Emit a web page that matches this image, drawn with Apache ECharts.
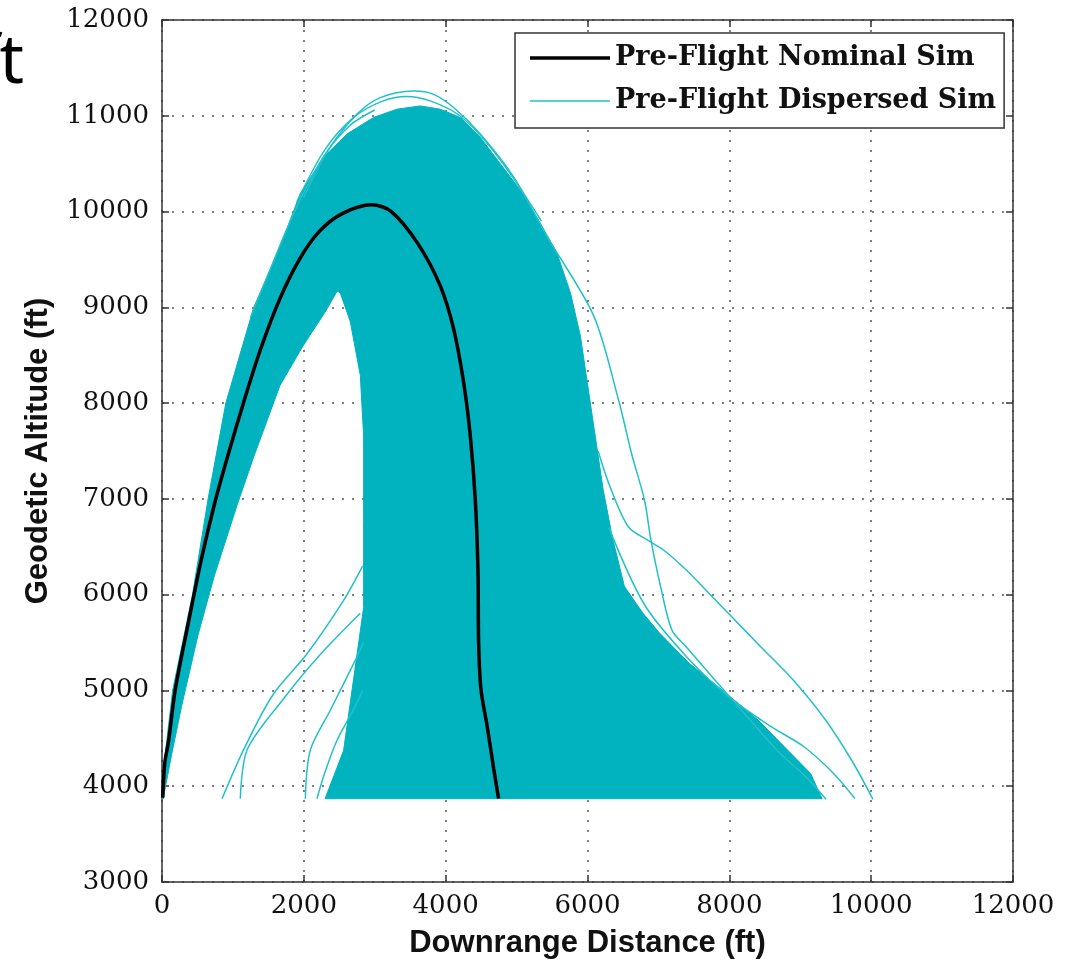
<!DOCTYPE html>
<html><head><meta charset="utf-8">
<script src="https://cdn.jsdelivr.net/npm/echarts@6/dist/echarts.min.js"></script>
<style>html,body{margin:0;padding:0;background:#fff}#c{width:1087px;height:964px}</style>
</head><body><div id="c"></div>
<script>
// ---- axis ticks ----
const xTickValues = [0, 2000, 4000, 6000, 8000, 10000, 12000];
const yTickValues = [3000, 4000, 5000, 6000, 7000, 8000, 9000, 10000, 11000, 12000];

// ---- nominal trajectory (black) ----
const nominalX = [10, 40, 92, 185, 370, 554, 739, 924, 1155, 1386, 1663, 1940, 2218, 2541, 2960, 3234, 3604, 3924, 4112, 4253, 4347, 4418, 4456, 4465, 4498, 4583, 4676, 4746];
const nominalY = [3880, 4250, 4466, 5000, 5700, 6366, 6944, 7440, 8018, 8555, 9091, 9504, 9793, 9979, 10070, 10000, 9670, 9224, 8776, 8217, 7657, 6985, 6240, 5494, 5009, 4636, 4188, 3871];

// ---- dense dispersion cloud outline (outer edge, bottom, inner hole edge) ----
const cloudX = [0, 40, 150, 430, 650, 900, 1294, 1668, 1950, 2279, 2608, 2984, 3313, 3642, 3924, 4206, 4488, 4770, 5052, 5334, 5569, 5760, 5900, 6000, 6100, 6220, 6350, 6520, 6780, 7016, 7433, 7896, 8405, 8822, 9146, 9308,
  2300, 2561, 2702, 2843, 2843, 2843, 2796, 2655, 2514, 2470, 2300, 1987, 1663, 1294, 1063, 739, 508, 277, 139, 40, 20];
const cloudY = [3870, 4300, 5000, 6000, 7000, 8000, 9000, 9637, 10189, 10569, 10810, 10983, 11069, 11103, 11069, 10983, 10776, 10500, 10224, 9879, 9568, 9150, 8700, 8200, 7700, 7100, 6600, 6087, 5808, 5599, 5285, 5006, 4692, 4377, 4133, 3870,
  3870, 4375, 5121, 5867, 6762, 7657, 8291, 8851, 9149, 9170, 8950, 8596, 8183, 7440, 6944, 6200, 5580, 4838, 4342, 3960, 3870];

// ---- individual dispersed runs that leave the cloud ----
const runAX = [2000, 2350, 2749, 3078, 3548, 3830, 4112, 4488, 4958, 5429, 6086, 6437, 6620, 6803, 6895, 7032, 7192, 7397, 7763, 8220, 8679, 9089, 9364];
const runAY = [10150, 10650, 11017, 11190, 11259, 11224, 11086, 10810, 10362, 9741, 8913, 8035, 7477, 6988, 6569, 6080, 5627, 5452, 5138, 4754, 4370, 4091, 3864];
const runBX = [6150, 6300, 6575, 6848, 7077, 7397, 7672, 8037, 8449, 8907, 9364, 9729, 10025];
const runBY = [7500, 7162, 6709, 6569, 6464, 6255, 6046, 5766, 5452, 5103, 4684, 4266, 3864];
const runCX = [6300, 6800, 7400, 7989, 8590, 9053, 9470, 9771];
const runCY = [6700, 5900, 5350, 4936, 4622, 4412, 4133, 3871];
const runTX = [1900, 2300, 2700, 3100, 3450, 3800, 4200, 4600, 5000, 5350];
const runTY = [10100, 10650, 10980, 11150, 11200, 11150, 11000, 10700, 10300, 9900];
const runUX = [1250, 1500, 1750, 2000, 2300, 2650, 3000];
const runUY = [8900, 9350, 9800, 10200, 10600, 10900, 11060];
const runL1X = [846, 1150, 1560, 2045, 2561, 2830];
const runL1Y = [3869, 4380, 4950, 5383, 5940, 6300];
const runL2X = [1104, 1200, 1700, 2200, 2796];
const runL2Y = [3869, 4380, 4900, 5350, 5806];
const runL3X = [2021, 2091, 2373, 2749, 2840];
const runL3Y = [3870, 4375, 4793, 5350, 5500];
const runL4X = [2185, 2300, 2467, 2700, 2830];
const runL4Y = [3870, 4150, 4478, 4800, 5000];

const zip = (xs, ys) => xs.map((x, i) => [x, ys[i]]);
const NOM = 'Pre-Flight Nominal Sim';
const DISP = 'Pre-Flight Dispersed Sim';
const CYAN = '#22c1c9';
const FILL = '#00b3be';

const runs = [[runAX, runAY], [runBX, runBY], [runCX, runCY], [runTX, runTY], [runUX, runUY],
  [runL1X, runL1Y], [runL2X, runL2Y], [runL3X, runL3Y], [runL4X, runL4Y]];

const chart = echarts.init(document.getElementById('c'), null, {renderer: 'canvas'});
const axisLineStyle = {color: '#333', width: 1.5};
const gridDots = {show: true, lineStyle: {color: '#555', width: 1.5, type: [2, 8]}};
const plain = v => String(v);
const serifLabel = {fontFamily: 'DejaVu Serif', fontSize: 26, color: '#111', formatter: plain};
const nameStyle = {fontFamily: 'Liberation Sans', fontWeight: 'bold', fontSize: 31, color: '#111'};

const series = [];
runs.forEach(r => series.push({
  type: 'line', name: DISP, data: zip(r[0], r[1]), symbol: 'none', z: 3,
  lineStyle: {color: CYAN, width: 1.5}, itemStyle: {color: CYAN}, smooth: 0.3
}));
series.push({
  type: 'custom', name: DISP, xAxisIndex: 0, yAxisIndex: 0, z: 2,
  data: [0],
  renderItem: function (params, api) {
    const pts = zip(cloudX, cloudY).map(p => api.coord(p));
    return {type: 'polygon', shape: {points: pts}, style: {fill: FILL, stroke: FILL, lineWidth: 1}};
  },
  silent: true
});
series.push({
  type: 'line', name: NOM, data: zip(nominalX, nominalY), symbol: 'none', z: 5,
  lineStyle: {color: '#000', width: 3.5}, itemStyle: {color: '#000'}, smooth: 0.3
});

chart.setOption({
  animation: false,
  backgroundColor: '#fff',
  grid: {left: 162, right: 74, top: 20, bottom: 82, containLabel: false},
  graphic: [{type: 'text', left: -24, top: 30, style: {text: 'ft', font: '68px "Noto Sans"', fill: '#000'}}],
  legend: {
    orient: 'vertical', left: 515, top: 33,
    padding: [10, 8, 12, 15], itemGap: 13, itemWidth: 80, itemHeight: 14,
    backgroundColor: '#fff', borderColor: '#333', borderWidth: 1.5,
    textStyle: {fontFamily: 'DejaVu Serif', fontWeight: 'bold', fontSize: 27, color: '#111', lineHeight: 30},
    data: [
      {name: NOM, icon: 'path://M0,0 L80,0 L80,3.5 L0,3.5 Z', itemStyle: {color: '#000'}},
      {name: DISP, icon: 'path://M0,0 L80,0 L80,1.5 L0,1.5 Z', itemStyle: {color: CYAN}}
    ]
  },
  xAxis: [{
    type: 'value', position: 'bottom', min: xTickValues[0], max: xTickValues[xTickValues.length - 1], interval: 2000,
    axisLine: {show: true, onZero: false, lineStyle: axisLineStyle},
    axisTick: {show: true, inside: true, length: 7, lineStyle: axisLineStyle},
    axisLabel: Object.assign({margin: 11}, serifLabel),
    splitLine: gridDots,
    name: 'Downrange Distance (ft)', nameLocation: 'middle', nameGap: 46, nameTextStyle: nameStyle
  }, {
    type: 'value', position: 'top', min: xTickValues[0], max: xTickValues[xTickValues.length - 1], interval: 2000,
    axisLine: {show: true, onZero: false, lineStyle: axisLineStyle},
    axisTick: {show: true, inside: true, length: 7, lineStyle: axisLineStyle},
    axisLabel: {show: false}, splitLine: {show: false}
  }],
  yAxis: [{
    type: 'value', position: 'left', min: yTickValues[0], max: yTickValues[yTickValues.length - 1], interval: 1000,
    axisLine: {show: true, onZero: false, lineStyle: axisLineStyle},
    axisTick: {show: true, inside: true, length: 7, lineStyle: axisLineStyle},
    axisLabel: Object.assign({margin: 13}, serifLabel),
    splitLine: gridDots,
    name: 'Geodetic Altitude (ft)', nameLocation: 'middle', nameGap: 108, nameRotate: 90, nameTextStyle: nameStyle
  }, {
    type: 'value', position: 'right', min: yTickValues[0], max: yTickValues[yTickValues.length - 1], interval: 1000,
    axisLine: {show: true, onZero: false, lineStyle: axisLineStyle},
    axisTick: {show: true, inside: true, length: 7, lineStyle: axisLineStyle},
    axisLabel: {show: false}, splitLine: {show: false}
  }],
  series: series
});
</script>
</body></html>
